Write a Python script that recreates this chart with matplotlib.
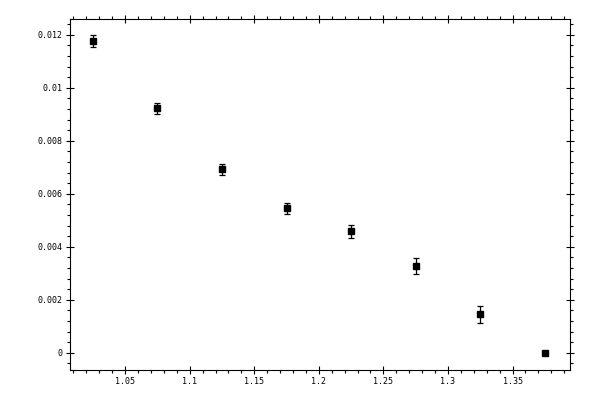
import matplotlib
matplotlib.use("Agg")
import matplotlib.pyplot as plt
from matplotlib.ticker import MultipleLocator, FixedLocator

x_vals = [1.025, 1.075, 1.125, 1.175, 1.225, 1.275, 1.325, 1.375]
y_vals = [0.01177, 0.00923, 0.00693, 0.00545, 0.00459, 0.00326, 0.00145, 0.0]
y_errs = [0.00023, 0.00021, 0.00021, 0.00021, 0.00025, 0.00030, 0.00031, 0.0]
x_ticks = [1.05, 1.1, 1.15, 1.2, 1.25, 1.3, 1.35]
x_tick_labels = ["1.05", "1.1", "1.15", "1.2", "1.25", "1.3", "1.35"]
y_ticks = [0, 0.002, 0.004, 0.006, 0.008, 0.01, 0.012]
y_tick_labels = ["0", "0.002", "0.004", "0.006", "0.008", "0.01", "0.012"]

plt.rcParams['font.family'] = ['DejaVu Sans Mono']
fig = plt.figure(figsize=(6, 4), dpi=100)
ax = fig.add_axes([0.116, 0.075, 0.834, 0.8775])

ax.errorbar(x_vals, y_vals, yerr=y_errs, fmt='s', color='black', ms=5,
            ecolor='black', elinewidth=0.9, capsize=2.2, capthick=0.9)

ax.set_xlim(1.007, 1.3945)
ax.set_ylim(-0.00065, 0.0126)
ax.xaxis.set_major_locator(FixedLocator(x_ticks))
ax.set_xticklabels(x_tick_labels)
ax.yaxis.set_major_locator(FixedLocator(y_ticks))
ax.set_yticklabels(y_tick_labels)
ax.xaxis.set_minor_locator(MultipleLocator(0.01))
ax.yaxis.set_minor_locator(MultipleLocator(0.0004))

for s in ax.spines.values():
    s.set_linewidth(0.8)

ax.tick_params(which='major', direction='inout', length=6, width=0.8,
               labelsize=6, top=True, right=True, pad=2)
ax.tick_params(which='minor', direction='out', length=2.5, width=0.8,
               top=True, right=True)

fig.savefig("out.png", dpi=100)
